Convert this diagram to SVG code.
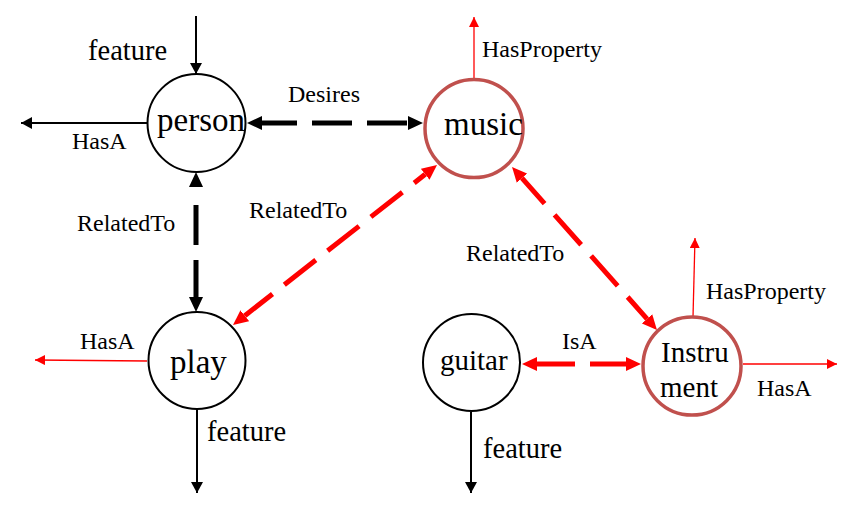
<svg xmlns="http://www.w3.org/2000/svg" width="857" height="517" viewBox="0 0 857 517">
<style>
text { font-family: "Liberation Serif", "Times New Roman", serif; fill: #000; }
.nb { fill: #fff; stroke: #000; stroke-width: 2; }
.nr { fill: #fff; stroke: #C0504D; stroke-width: 3.5; }
.big { font-size: 33px; }
.mid { font-size: 29px; }
.lab { font-size: 24px; }
.feat { font-size: 28.5px; }
.tk { stroke: #000; stroke-width: 2; fill: none; }
.tr { stroke: #FF0000; stroke-width: 1.3; fill: none; }
.dk { stroke: #000; stroke-width: 5; fill: none; }
.dr { stroke: #FF0000; stroke-width: 5; fill: none; }
</style>
<defs>
<marker id="ak" viewBox="0 -7 15 14" markerWidth="15" markerHeight="14" refX="0" refY="0" markerUnits="userSpaceOnUse" orient="auto-start-reverse"><path d="M0,-7 L15,0 L0,7 z" fill="#000"/></marker>
<marker id="ar" viewBox="0 -7 15 14" markerWidth="15" markerHeight="14" refX="0" refY="0" markerUnits="userSpaceOnUse" orient="auto-start-reverse"><path d="M0,-7 L15,0 L0,7 z" fill="#FF0000"/></marker>
<marker id="mk" viewBox="0 -6 11 12" markerWidth="11" markerHeight="12" refX="11" refY="0" markerUnits="userSpaceOnUse" orient="auto"><path d="M0,-6 L11,0 L0,6 z" fill="#000"/></marker>
<marker id="mr" viewBox="0 -5 10 10" markerWidth="10" markerHeight="10" refX="10" refY="0" markerUnits="userSpaceOnUse" orient="auto"><path d="M0,-5 L10,0 L0,5 z" fill="#FF0000"/></marker>
</defs>
<g id="connectors">
<line class="tk" x1="196" y1="16" x2="196" y2="74" marker-end="url(#mk)"/>
<line class="tk" x1="147" y1="123" x2="21" y2="123" marker-end="url(#mk)"/>
<line class="dk" x1="262" y1="123" x2="408" y2="123" stroke-dasharray="40 15" stroke-dashoffset="5" marker-start="url(#ak)" marker-end="url(#ak)"/>
<line class="dk" x1="196" y1="187" x2="196" y2="297" stroke-dasharray="0 18 40 15 40 15" marker-start="url(#ak)" marker-end="url(#ak)"/>
<line class="dr" x1="425.2" y1="174.3" x2="244.8" y2="315.7" stroke-dasharray="40 15" stroke-dashoffset="26" marker-start="url(#ar)" marker-end="url(#ar)"/>
<line class="dr" x1="522" y1="178.2" x2="647" y2="318.8" stroke-dasharray="40 15" stroke-dashoffset="6" marker-start="url(#ar)" marker-end="url(#ar)"/>
<line class="dr" x1="537" y1="364" x2="626" y2="364" stroke-dasharray="38 15 100" marker-start="url(#ar)" marker-end="url(#ar)"/>
<line class="tr" x1="474" y1="80" x2="474" y2="17" marker-end="url(#mr)"/>
<line class="tr" x1="693" y1="317" x2="695" y2="238" marker-end="url(#mr)"/>
<line class="tr" x1="743" y1="364" x2="837" y2="364" marker-end="url(#mr)"/>
<line class="tr" x1="147" y1="361" x2="35" y2="360" marker-end="url(#mr)"/>
<line class="tk" x1="197" y1="410" x2="197" y2="493" marker-end="url(#mk)"/>
<line class="tk" x1="471" y1="412" x2="471" y2="493" marker-end="url(#mk)"/>
<text class="feat" x="88" y="60">feature</text>
<text class="lab" x="72" y="149">HasA</text>
<text class="lab" x="288" y="102">Desires</text>
<text class="lab" x="77" y="231">RelatedTo</text>
<text class="lab" x="249" y="218">RelatedTo</text>
<text class="lab" x="482" y="57">HasProperty</text>
<text class="lab" x="466" y="261">RelatedTo</text>
<text class="lab" x="80" y="349">HasA</text>
<text class="feat" x="207" y="441">feature</text>
<text class="lab" x="562" y="349">IsA</text>
<text class="lab" x="706" y="299">HasProperty</text>
<text class="lab" x="757" y="396">HasA</text>
<text class="feat" x="483" y="458">feature</text>
</g>
<g id="person">
<circle class="nb" cx="196.5" cy="123" r="49"/>
<text class="big" x="157" y="131">person</text>
</g>
<g id="music">
<circle class="nr" cx="474" cy="128.5" r="49"/>
<text class="big" x="444" y="135">music</text>
</g>
<g id="play">
<circle class="nb" cx="197" cy="360.5" r="48.5"/>
<text class="big" x="170" y="373">play</text>
</g>
<g id="guitar">
<circle class="nb" cx="471.5" cy="362.5" r="48.5"/>
<text class="mid" x="440" y="370">guitar</text>
</g>
<g id="instrument">
<circle class="nr" cx="692" cy="366" r="49"/>
<text class="mid" x="661" y="362">Instru</text>
<text class="mid" x="660" y="397">ment</text>
</g>
</svg>
